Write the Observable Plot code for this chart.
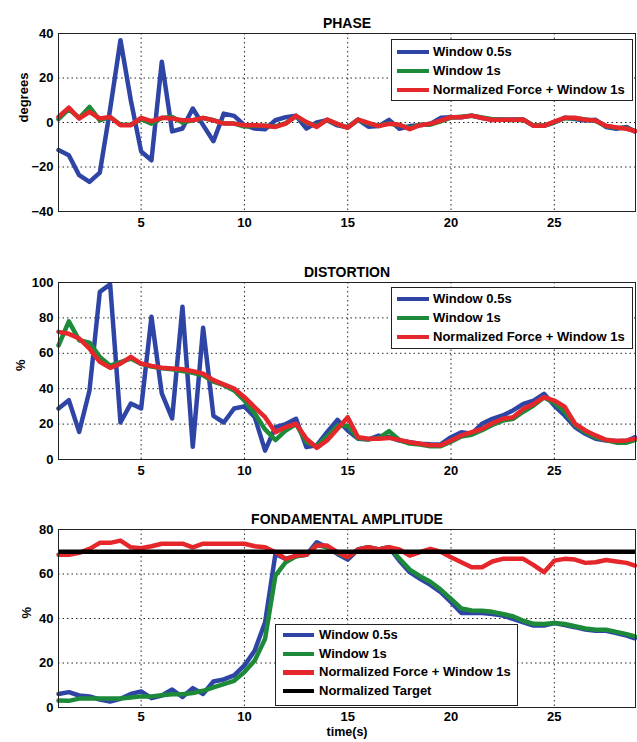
<!DOCTYPE html>
<html><head><meta charset="utf-8">
<script src="https://cdn.jsdelivr.net/npm/d3@7"></script>
<script src="https://cdn.jsdelivr.net/npm/@observablehq/plot@0.6"></script>
<style>
body{margin:0;background:#fff;}
#chart{position:relative;width:637px;height:742px;font-family:"Liberation Sans",Arial,sans-serif;font-weight:bold;background:#fff;}
#chart svg{position:absolute;left:0;}
.legend{position:absolute;background:#fff;border:1px solid #222;box-sizing:border-box;}
.legend .sw{position:absolute;width:32px;height:4.5px;margin-top:-2.5px;}
.legend .lab{position:absolute;font-size:13px;line-height:14px;margin-top:-7.5px;white-space:nowrap;color:#000;}
</style></head><body><div id="chart"></div>
<script>
const time = [1,1.5,2,2.5,3,3.5,4,4.5,5,5.5,
  6,6.5,7,7.5,8,8.5,9,9.5,10,10.5,
  11,11.5,12,12.5,13,13.5,14,14.5,15,15.5,
  16,16.5,17,17.5,18,18.5,19,19.5,20,20.5,
  21,21.5,22,22.5,23,23.5,24,24.5,25,25.5,
  26,26.5,27,27.5,28,28.5,28.9];
const seriesNames = ["Window 0.5s","Window 1s","Normalized Force + Window 1s"];
const targetName = "Normalized Target";
const seriesColors = ["#2f45a6","#1d8a3a","#e5262b"];
const targetColor = "#000";
const xTicks = [5,10,15,20,25];
const panelTitles = ["PHASE","DISTORTION","FONDAMENTAL AMPLITUDE"];
const yLabels = ["degrees","%","%"];
const xLabel = "time(s)";

const phaseW05 = [-12.4,-14.7,-23.7,-26.7,-22.5,6,37,10,-13,-17,
  27.3,-4,-2.7,6.3,-1.2,-8.4,4,3,-1.2,-2.7,
  -3,1,2.4,3,-2.7,0,1,-1.3,-2.1,1.3,
  -1.9,-1.6,1.2,-2.8,-1.6,-1.2,-0.6,2.1,2.4,2.4,
  3.1,2,1.3,1.3,1.3,1.3,-1.5,-1.5,0,2.1,
  1.6,0.9,1.2,-2,-2.8,-2,-4];
const phaseW1 = [1.5,6,2,7,1,2.5,-1,-1,1.5,-0.5,
  2,2.5,0,1,2,1,-0.3,-0.5,-1.8,-1.5,
  -1.5,-1.8,-0.3,2.8,0,-1.5,1.2,-0.8,-2.2,1.2,
  -0.5,-1.4,-0.4,-1.2,-2.5,-1,-1,0.5,2.2,2.6,
  3,2.3,1.5,1.2,1.1,1.2,-1.4,-1.4,0.2,2,
  1.9,1.4,0.7,-1.6,-2.4,-2.6,-3.8];
const phaseNF = [2.5,6.7,1.8,4.8,1.8,2.5,-1.2,-1.2,2.1,0.6,
  2.1,1.8,1,1,2.1,1,-0.5,-0.5,-1.2,-1.2,
  -1.5,-2,-0.5,3,0.2,-2,1.3,-0.6,-2.4,1.3,
  -0.2,-1.6,-0.6,-1,-3,-1.2,-0.6,0.9,2.4,2.4,
  3.1,2,1.1,1.2,1.2,1.3,-1.5,-1.5,0.4,2.1,
  2.1,1.2,0.9,-1.5,-2.2,-2.8,-3.8];

const distW05 = [28.8,33.5,15.6,39,94.7,98.9,20.9,31.6,28.8,80.6,
  37.3,23.2,86.3,7.2,74.4,24.7,20.9,28.8,30,23.9,
  5,18.3,20,23,7,8,15.4,22.4,16.4,11.7,
  11.3,13.5,12.6,10.7,9.8,8.9,8.6,8.5,12.6,15.4,
  14.5,20.2,23,24.9,27.7,31.4,33.3,37.1,30.5,24.9,
  18.3,14.5,11.7,10.7,10.4,10.4,12.6];
const distW1 = [64.4,78,67.4,66,58,53,55,57,54,52.5,
  51.5,51,50,49,47.5,44,42,39,33.3,26,
  17,11,16.4,20,9.8,7.5,13,19,19,12,
  11.5,12,16,11,9,8.5,7.5,7.5,10,13,
  14,16.5,19.5,22,23,27,30.5,35,32,27,
  19.5,15.5,12.5,11,9.5,9.5,11];
const distNF = [72.1,71,68.4,62.7,55.2,51.8,54.2,58,54.2,52.9,
  51.8,51.4,51,49.9,48.5,44.8,42.4,40.1,35.2,29.5,
  23.9,15.4,18.3,20.2,11.7,6.6,10.8,17.3,23.9,12.6,
  11.7,11.7,12.2,11.1,9.8,8.9,8,8,10.7,13.6,
  15.4,17.3,20.5,23,23.9,28.6,31.4,35.2,33.3,29.9,
  20.2,16.4,13.6,11.1,10.4,10.8,11.7];

const ampW05 = [6.1,6.9,5.4,5,3.6,2.7,3.9,6.1,7.2,4.2,
  5.4,8.1,4.7,8.7,6.1,11.7,12.6,14.4,18.9,25.6,
  38.3,69,66.8,68,68.6,74.3,72,69,66.5,71,
  72,71,72,66,60.8,57.8,55.1,51.8,47.3,42.5,
  42.5,42.5,42,41.3,39.8,38.3,36.8,36.8,38,37,
  36.1,35,34.5,34.5,33.5,32.3,31.1];
const ampW1 = [3.1,3,4,4,4,4,4,4.5,5,5,
  5.5,6,6,6.5,7.5,9,10.5,12,15.9,21.1,
  30.9,59.3,65.3,68,68.6,73,72,69.5,67.5,71,
  72,71,72,67,62,59,56.5,53,48.8,44.5,
  43.6,43.5,43,42,41,39,37.6,37.5,38,37.5,
  36.5,35.5,35,35,34,33,32];
const ampNF = [68.6,68.6,69.5,71.3,74,74,75,72,71.6,72.5,
  73.6,73.6,73.6,72,73.6,73.6,73.6,73.6,73.6,72.5,
  72,69.8,66.8,68.3,68.6,72.8,72.8,69.8,67.5,71,
  72,71,72,71,68.3,69.8,71.3,70,67.5,65.3,
  63,63,65.6,66.8,66.8,66.8,64,60.8,66,66.8,
  66.5,65,65.3,66.3,65.6,65,63.8];
const ampTarget = [70];

const phaseYTicks = [-40,-20,0,20,40];
const distYTicks = [0,20,40,60,80,100];
const ampYTicks = [0,20,40,60,80];

const chart = document.getElementById("chart");
const font = '"Liberation Sans", Arial, sans-serif';

function panel(o) {
  const gridStyle = {stroke:"#000", strokeOpacity:0.85, strokeWidth:1, strokeDasharray:"1.5,3"};
  const dom = [o.yTicks[0], o.yTicks[o.yTicks.length-1]];
  const marks = [
    Plot.ruleX(xTicks, gridStyle),
    Plot.ruleY(o.yTicks.slice(1,-1), gridStyle),
    ...o.series.map((vals,i)=>Plot.line(time.map((t,j)=>({t, v: vals[j]})),
      {x:"t", y:"v", stroke: seriesColors[i], strokeWidth:4.5, strokeLinejoin:"round", strokeLinecap:"round"})),
  ];
  if (o.target) marks.push(Plot.ruleY(o.target, {stroke: targetColor, strokeWidth:4.5}));
  marks.push(
    Plot.frame({stroke:"#222", strokeWidth:1}),
    Plot.axisX({ticks: xTicks, tickSize:0, tickPadding:o.xPad ?? 6, label:null}),
    Plot.axisY({ticks: o.yTicks, tickSize:0, tickPadding:5, label:null}),
    Plot.text([o.title], {text:d=>d, frameAnchor:"top", dy:-15.5, fontSize:14, fontWeight:"bold"}),
    Plot.text([o.ylabel], {text:d=>d, frameAnchor:"left", dx:o.ylabelDx, rotate:-90, fontSize:13, fontWeight:"bold"})
  );
  if (o.xlabel) marks.push(Plot.text([o.xlabel], {text:d=>d, frameAnchor:"bottom", dy:28.5, fontSize:12.5, fontWeight:"bold"}));
  const svg = Plot.plot({
    width:637, height:o.height,
    marginLeft:58, marginRight:2, marginTop:o.mt, marginBottom:o.mb,
    x:{domain:[1,28.93]},
    y:{domain:dom},
    style:{fontFamily:font, fontSize:"13px", fontWeight:"bold", background:"transparent", color:"#000"},
    marks
  });
  svg.style.top = o.top + "px";
  chart.appendChild(svg);
}

panel({top:0, height:248, mt:33, mb:37, yTicks:phaseYTicks, series:[phaseW05,phaseW1,phaseNF],
  title:panelTitles[0], ylabel:yLabels[0], ylabelDx:-35});
panel({top:248, height:248, mt:34, mb:37, yTicks:distYTicks, series:[distW05,distW1,distNF],
  title:panelTitles[1], ylabel:yLabels[1], ylabelDx:-38});
panel({top:496, height:246, mt:33, mb:35, yTicks:ampYTicks, series:[ampW05,ampW1,ampNF], target:ampTarget,
  title:panelTitles[2], ylabel:yLabels[2], ylabelDx:-32, xlabel:xLabel, xPad:4});

function legend(box, rows, swX, swW, txX) {
  const d = document.createElement("div");
  d.className = "legend";
  Object.assign(d.style, {left:box[0]+"px", top:box[1]+"px", width:box[2]+"px", height:box[3]+"px"});
  rows.forEach(r => {
    const s = document.createElement("div");
    s.className = "sw";
    Object.assign(s.style, {left:swX+"px", top:r.y+"px", width:swW+"px", background:r.color});
    const t = document.createElement("div");
    t.className = "lab";
    Object.assign(t.style, {left:txX+"px", top:r.y+"px"});
    t.textContent = r.name;
    d.appendChild(s); d.appendChild(t);
  });
  chart.appendChild(d);
}
const rows3 = (ys) => seriesNames.map((n,i)=>({name:n, color:seriesColors[i], y:ys[i]}));
legend([391,39,242,62], rows3([12,31,50]), 5, 32, 41);
legend([391,287,242,62], rows3([11,30,49]), 5, 32, 41);
legend([275,624,243,82], [...rows3([10,29,47.5]), {name:targetName, color:targetColor, y:66}], 7, 31, 43);
</script></body></html>
